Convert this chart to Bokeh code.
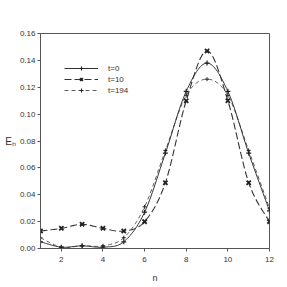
import numpy as np
from bokeh.plotting import figure
from bokeh.models import Range1d, FixedTicker, Legend, LegendItem, NumeralTickFormatter
from bokeh.embed import file_html
from bokeh.resources import INLINE

n = [1, 2, 3, 4, 5, 6, 7, 8, 9, 10, 11, 12]
e_t0 = [0.005, 0.001, 0.002, 0.001, 0.005, 0.027, 0.071, 0.117, 0.138, 0.117, 0.071, 0.028]
e_t10 = [0.013, 0.015, 0.018, 0.015, 0.013, 0.020, 0.049, 0.110, 0.147, 0.110, 0.049, 0.020]
e_t194 = [0.008, 0.001, 0.002, 0.002, 0.008, 0.031, 0.073, 0.114, 0.126, 0.114, 0.073, 0.030]
x_ticks = [2, 4, 6, 8, 10, 12]
y_ticks = [0.0, 0.02, 0.04, 0.06, 0.08, 0.10, 0.12, 0.14, 0.16]
labels = ["t=0", "t=10", "t=194"]


def smooth(xs, ys, k=16):
    xs = np.asarray(xs, float)
    ys = np.asarray(ys, float)
    P = np.column_stack([xs, ys])
    out = []
    for i in range(len(P) - 1):
        p0 = P[i - 1] if i > 0 else P[i]
        p1 = P[i]
        p2 = P[i + 1]
        p3 = P[i + 2] if i + 2 < len(P) else P[i + 1]
        t = np.linspace(0, 1, k, endpoint=False)[:, None]
        seg = 0.5 * ((2 * p1) + (-p0 + p2) * t + (2 * p0 - 5 * p1 + 4 * p2 - p3) * t ** 2
                     + (-p0 + 3 * p1 - 3 * p2 + p3) * t ** 3)
        out.append(seg)
    out.append(P[-1:])
    S = np.vstack(out)
    return S[:, 0], S[:, 1]


FONT = "Liberation Sans"
TXT = "#333333"

p = figure(frame_width=229, frame_height=215, output_backend="svg", toolbar_location=None,
           x_range=Range1d(1, 12), y_range=Range1d(0, 0.16),
           min_border_left=40, min_border_top=33, min_border_right=10, min_border_bottom=30)
p.background_fill_color = "white"
p.border_fill_color = "white"
p.outline_line_color = "#555555"
p.grid.visible = False

for ax in (p.xaxis[0], p.yaxis[0]):
    ax.axis_line_color = "#555555"
    ax.major_tick_line_color = "#555555"
    ax.major_tick_in = 0
    ax.major_tick_out = 3
    ax.minor_tick_line_color = None
    ax.major_label_text_font = FONT
    ax.major_label_text_font_size = "8px"
    ax.major_label_text_color = TXT
    ax.axis_label_text_font = FONT
    ax.axis_label_text_font_style = "normal"
    ax.axis_label_text_color = TXT

p.xaxis.ticker = FixedTicker(ticks=x_ticks)
p.yaxis.ticker = FixedTicker(ticks=y_ticks)
p.yaxis.formatter = NumeralTickFormatter(format="0.00")
p.yaxis.major_label_standoff = 2
p.xaxis.major_label_standoff = 5
p.xaxis.axis_label = "n"
p.xaxis.axis_label_text_font_size = "9px"
p.xaxis.axis_label_standoff = 8
p.yaxis.axis_label = "Eₙ"
p.yaxis.axis_label_text_font_size = "10px"
p.yaxis.axis_label_orientation = "horizontal"
p.yaxis.axis_label_standoff = 1

styles = [
    dict(dash="solid", width=1.0, marker="cross", size=5, mw=1.2),
    dict(dash="7 3", width=1.1, marker="x", size=6, mw=1.8),
    dict(dash="4 3", width=0.8, marker="cross", size=4, mw=1.0),
]
items = []
for ys, st, lab in zip([e_t0, e_t10, e_t194], styles, labels):
    sx, sy = smooth(n, ys)
    r1 = p.line(sx, sy, line_color="#333333", line_width=st["width"], line_dash=st["dash"])
    r2 = p.scatter(n, ys, marker=st["marker"], size=st["size"], line_color="#222222",
                   line_width=st["mw"])
    items.append(LegendItem(label=lab, renderers=[r1, r2]))

legend = Legend(items=items, location=(24, 153), glyph_width=34, glyph_height=10,
                label_height=10, spacing=1, padding=0, margin=0, label_standoff=10,
                label_text_font=FONT, label_text_font_size="8px", label_text_color=TXT,
                border_line_color=None, background_fill_alpha=0)
p.add_layout(legend, "center")

open("out.html", "w").write(file_html(p, INLINE))
